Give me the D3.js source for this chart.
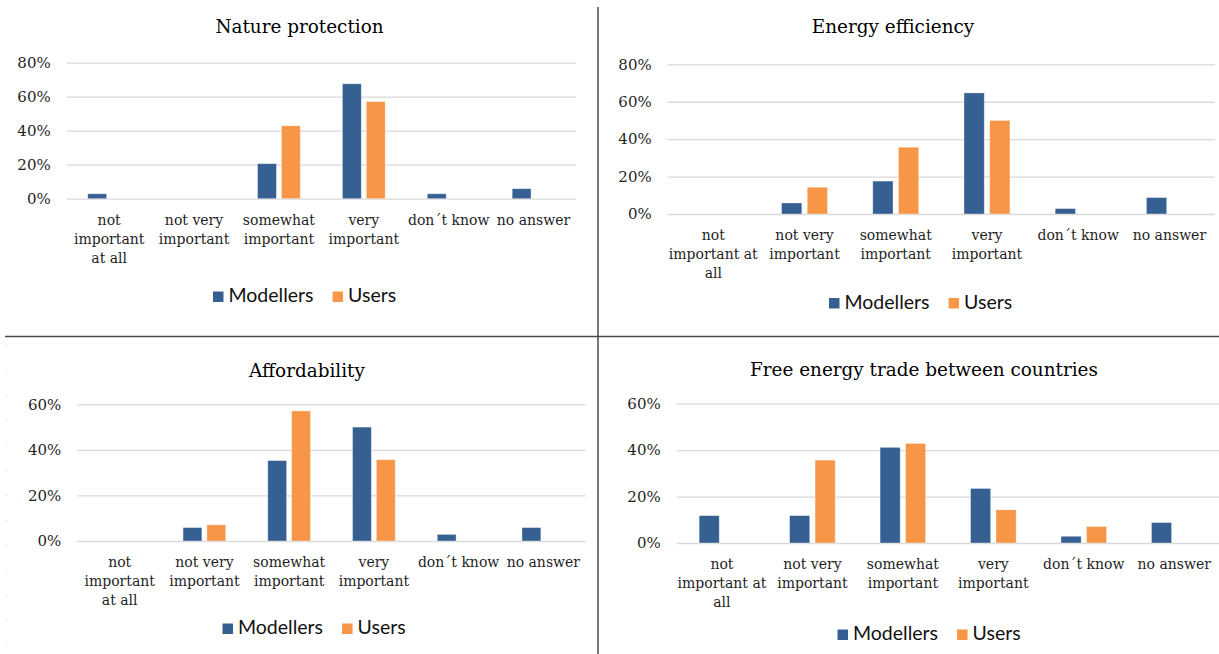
<!DOCTYPE html>
<html>
<head>
<meta charset="utf-8">
<script src="https://cdn.jsdelivr.net/npm/d3@7"></script>
<style>
  html, body { margin: 0; padding: 0; background: #ffffff; }
  svg { display: block; }
</style>
</head>
<body>
<svg id="chart" width="1219" height="654"></svg>
<script>
// Survey answers: share of respondents per answer, in percent
const categories = ["not important at all", "not very important", "somewhat important", "very important", "don´t know", "no answer"];
const seriesNames = ["Modellers", "Users"];

const natureModellers = [2.9, 0, 20.6, 67.6, 2.9, 5.9];
const natureUsers = [0, 0, 42.9, 57.1, 0, 0];

const efficiencyModellers = [0, 5.9, 17.6, 64.7, 2.9, 8.8];
const efficiencyUsers = [0, 14.3, 35.7, 50.0, 0, 0];

const affordabilityModellers = [0, 5.9, 35.3, 50.0, 2.9, 5.9];
const affordabilityUsers = [0, 7.1, 57.1, 35.7, 0, 0];

const tradeModellers = [11.8, 11.8, 41.2, 23.5, 2.9, 8.8];
const tradeUsers = [0, 35.7, 42.9, 14.3, 7.1, 0];

const panelTitles = ["Nature protection", "Energy efficiency", "Affordability", "Free energy trade between countries"];
const ticksUpTo80 = [0, 20, 40, 60, 80];
const ticksUpTo60 = [0, 20, 40, 60];

const colors = { Modellers: "#366092", Users: "#F79646" };

// Placement of each of the four small charts
const panels = [
  { title: panelTitles[0], modellers: natureModellers, users: natureUsers, ticks: ticksUpTo80,
    x0: 66.7, x1: 576, yBase: 198.7, yTop: 62.7, titleX: 299.5, titleY: 33.3,
    legendX: 213, legendY: 291.5, wrapWidth: 84 },
  { title: panelTitles[1], modellers: efficiencyModellers, users: efficiencyUsers, ticks: ticksUpTo80,
    x0: 667.7, x1: 1215, yBase: 214, yTop: 64.3, titleX: 893, titleY: 33.3,
    legendX: 829, legendY: 298, wrapWidth: 95 },
  { title: panelTitles[2], modellers: affordabilityModellers, users: affordabilityUsers, ticks: ticksUpTo60,
    x0: 77.3, x1: 585.7, yBase: 541, yTop: 404.3, titleX: 307, titleY: 377.3,
    legendX: 222.5, legendY: 623.5, wrapWidth: 84 },
  { title: panelTitles[3], modellers: tradeModellers, users: tradeUsers, ticks: ticksUpTo60,
    x0: 676.7, x1: 1219.5, yBase: 543, yTop: 403.7, titleX: 924, titleY: 376.3,
    legendX: 837.5, legendY: 629.5, wrapWidth: 95 }
];

const svg = d3.select("#chart");
const serif = "'DejaVu Serif', serif";
const sans = "Lato, 'Liberation Sans', sans-serif";

function wrap(text, width, lineHeight) {
  text.each(function () {
    const t = d3.select(this);
    const words = t.text().split(/\s+/);
    t.text(null);
    const probe = t.append("tspan");
    const lines = [];
    let line = [];
    words.forEach(w => {
      line.push(w);
      probe.text(line.join(" "));
      if (probe.node().getComputedTextLength() > width && line.length > 1) {
        line.pop();
        lines.push(line.join(" "));
        line = [w];
      }
    });
    lines.push(line.join(" "));
    probe.remove();
    lines.forEach((l, i) => {
      t.append("tspan").attr("x", 0).attr("dy", i ? lineHeight : 0).text(l);
    });
  });
}

panels.forEach(p => {
  const g = svg.append("g");
  const maxTick = p.ticks[p.ticks.length - 1];

  const x = d3.scaleBand().domain(categories).range([p.x0, p.x1])
    .paddingInner(0.496).paddingOuter(0.248);
  const xs = d3.scaleBand().domain(seriesNames).range([0, x.bandwidth()]).paddingInner(0.21);
  const y = d3.scaleLinear().domain([0, maxTick]).range([p.yBase, p.yTop]);

  // title
  g.append("text")
    .attr("x", p.titleX).attr("y", p.titleY)
    .attr("text-anchor", "middle")
    .style("font-family", serif).style("font-size", "18.4px").style("fill", "#000")
    .text(p.title);

  // value axis with gridlines
  const yAxis = g.append("g")
    .attr("transform", `translate(${p.x0},0)`)
    .call(d3.axisLeft(y).tickValues(p.ticks).tickFormat(d => d + "%")
      .tickSize(-(p.x1 - p.x0)).tickPadding(16));
  yAxis.select(".domain").remove();
  yAxis.selectAll(".tick line").attr("stroke", "#d9d9d9").attr("stroke-width", 1.3);
  yAxis.selectAll(".tick text")
    .style("font-family", serif).style("font-size", "15px").style("fill", "#1f1f1f");

  // category axis
  const xAxis = g.append("g")
    .attr("transform", `translate(0,${p.yBase})`)
    .call(d3.axisBottom(x).tickSize(0).tickPadding(0));
  xAxis.select(".domain").remove();
  xAxis.selectAll(".tick text")
    .attr("y", 26).attr("dy", null)
    .style("font-family", serif).style("font-size", "14px").style("fill", "#1f1f1f")
    .call(wrap, p.wrapWidth, 19);

  // bars
  const rows = categories.map((c, i) => ({ category: c, Modellers: p.modellers[i], Users: p.users[i] }));
  const groups = g.append("g").selectAll("g").data(rows).join("g")
    .attr("transform", d => `translate(${x(d.category)},0)`);
  groups.selectAll("rect")
    .data(d => seriesNames.map(s => ({ series: s, value: d[s] })))
    .join("rect")
    .attr("x", d => xs(d.series))
    .attr("width", xs.bandwidth())
    .attr("y", d => y(d.value))
    .attr("height", d => y(0) - y(d.value))
    .attr("fill", d => colors[d.series])
    .attr("stroke", "rgba(255,255,255,0.45)")
    .attr("stroke-width", 0.8);

  // legend
  const legend = g.append("g").attr("transform", `translate(${p.legendX},${p.legendY})`);
  let cursor = 0;
  seriesNames.forEach(s => {
    legend.append("rect")
      .attr("x", cursor).attr("y", 0).attr("width", 10.5).attr("height", 10.5)
      .attr("fill", colors[s]);
    const label = legend.append("text")
      .attr("x", cursor + 15.5).attr("y", 10.5)
      .style("font-family", sans).style("font-size", "19.5px").style("fill", "#111")
      .text(s);
    cursor += 15.5 + label.node().getComputedTextLength() + 19;
  });
});

// frame lines separating the four charts
svg.append("line").attr("x1", 598).attr("x2", 598).attr("y1", 7).attr("y2", 654)
  .attr("stroke", "#4a4a4a").attr("stroke-width", 1.5);
svg.append("line").attr("x1", 5).attr("x2", 1219).attr("y1", 336.5).attr("y2", 336.5)
  .attr("stroke", "#4a4a4a").attr("stroke-width", 1.5);
svg.append("line").attr("x1", 6.5).attr("x2", 6.5).attr("y1", 345).attr("y2", 654)
  .attr("stroke", "#d0d0d0").attr("stroke-width", 1).attr("stroke-dasharray", "1,24");
</script>
</body>
</html>
